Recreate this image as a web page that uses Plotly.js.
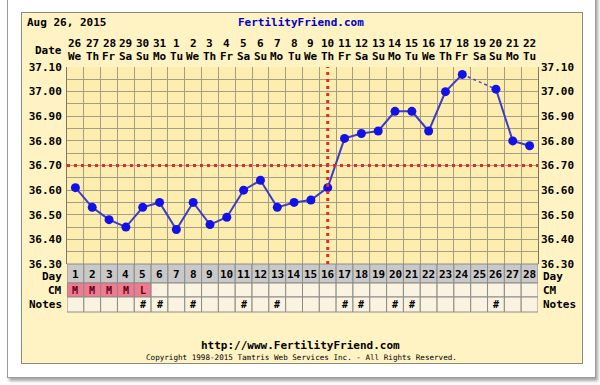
<!DOCTYPE html>
<html><head><meta charset="utf-8">
<script src="https://cdn.plot.ly/plotly-3.0.1.min.js"></script>
<style>
html,body{margin:0;padding:0;background:#fff;width:600px;height:385px;overflow:hidden;}
#frame{position:absolute;left:7px;top:-6px;width:587px;height:382px;border:1px solid #9a9a9a;background:#fff;box-shadow:2px 3px 3px rgba(0,0,0,0.35);}
#chart{position:absolute;left:21px;top:12px;width:560px;height:350px;border:1px solid #8a8a80;}
</style></head><body>
<div id="frame"></div><div id="chart"></div>
<script>
// ---- data ----
const cycleDays = [1,2,3,4,5,6,7,8,9,10,11,12,13,14,15,16,17,18,19,20,21,22,23,24,25,26,27,28];
const dateLabels = ['26','27','28','29','30','31','1','2','3','4','5','6','7','8','9','10','11','12','13','14','15','16','17','18','19','20','21','22'];
const weekdayLabels = ['We','Th','Fr','Sa','Su','Mo','Tu','We','Th','Fr','Sa','Su','Mo','Tu','We','Th','Fr','Sa','Su','Mo','Tu','We','Th','Fr','Sa','Su','Mo','Tu'];
const temps = [36.61,36.53,36.48,36.45,36.53,36.55,36.44,36.55,36.46,36.49,36.60,36.64,36.53,36.55,36.56,36.61,36.81,36.83,36.84,36.92,36.92,36.84,37.00,37.07,null,37.01,36.80,36.78];
const cmLabels = ['M','M','M','M','L','','','','','','','','','','','','','','','','','','','','','','',''];
const noteMarks = ['','','','','#','#','','#','','','#','','#','','','','#','#','','#','#','','','','','#','',''];
const coverline = 36.70;
const ovulationDay = 16;
const chartDate = 'Aug 26, 2015';
const siteTitle = 'FertilityFriend.com';
const footerUrl = 'http://www.FertilityFriend.com';
const footerCopy = 'Copyright 1998-2015 Tamtris Web Services Inc. - All Rights Reserved.';
const yMin = 36.30, yMax = 37.10;

// ---- layout helpers (page pixel -> paper) ----
const PL = 67, PW = 471, PB = 312, PH = 245;
const px = v => (v - PL) / PW;
const py = v => (PB - v) / PH;

const MONO = 'DejaVu Sans Mono';
const fnt = (size, color) => ({family: MONO, size: size, color: color || '#000', weight: 'bold'});
const gridCol = '#a59e86';
const cellLine = '#8c8c84';

// gap bridging (dashed) segments
const bridgeX = [], bridgeY = [];
for (let i = 1; i < temps.length - 1; i++) {
  if (temps[i] === null && temps[i-1] !== null && temps[i+1] !== null) {
    bridgeX.push(cycleDays[i-1], cycleDays[i+1], null);
    bridgeY.push(temps[i-1], temps[i+1], null);
  }
}

const traces = [
  {x: bridgeX, y: bridgeY, mode: 'lines', line: {color: '#4a4ab8', width: 1.5, dash: '3px,3px'}, hoverinfo: 'skip', showlegend: false},
  {x: cycleDays, y: temps, mode: 'lines+markers', connectgaps: false,
   line: {color: '#3c3cc8', width: 2}, marker: {color: '#1212e8', size: 9}, showlegend: false},
  {x: cycleDays, y: temps, yaxis: 'y2', mode: 'markers', marker: {opacity: 0}, hoverinfo: 'skip', showlegend: false}
];

const shapes = [];
const annotations = [];
const ann = (xref, x, y, text, font, xanchor) => annotations.push({xref: xref, yref: 'paper', x: x, y: y, text: text,
  showarrow: false, font: font, xanchor: xanchor || 'center', yanchor: 'middle'});
// table rows (page pixel bounds)
const rowDay = [264, 283], rowCM = [283, 297], rowNotes = [297, 312];
cycleDays.forEach((d, i) => {
  shapes.push({type: 'rect', xref: 'x', yref: 'paper', x0: d - 0.5, x1: d + 0.5, y0: py(rowDay[1]), y1: py(rowDay[0]),
    fillcolor: '#c9c9c9', line: {color: cellLine, width: 1}});
  shapes.push({type: 'rect', xref: 'x', yref: 'paper', x0: d - 0.5, x1: d + 0.5, y0: py(rowCM[1]), y1: py(rowCM[0]),
    fillcolor: cmLabels[i] ? '#f07a90' : '#fbf3e2', line: {color: cellLine, width: 1}});
  shapes.push({type: 'rect', xref: 'x', yref: 'paper', x0: d - 0.5, x1: d + 0.5, y0: py(rowNotes[1]), y1: py(rowNotes[0]),
    fillcolor: '#fbf3e2', line: {color: cellLine, width: 1}});
  ann('x', d, py(274), String(d), fnt(11));
  if (cmLabels[i]) ann('x', d, py(290), cmLabels[i], fnt(10, '#5a0010'));
  if (noteMarks[i]) ann('x', d, py(304.5), noteMarks[i], fnt(10));
  ann('x', d, py(44), dateLabels[i], fnt(11));
  ann('x', d, py(57), weekdayLabels[i], fnt(11));
});
// coverline and ovulation line
shapes.push({type: 'line', xref: 'x', yref: 'y', x0: cycleDays[0] - 0.5, x1: cycleDays[cycleDays.length-1] + 0.5, y0: coverline, y1: coverline,
  line: {color: '#e32b2b', width: 3, dash: '3px,4px'}});
shapes.push({type: 'line', xref: 'x', yref: 'y', x0: ovulationDay, x1: ovulationDay, y0: yMin, y1: yMax,
  line: {color: '#e32b2b', width: 3, dash: '3px,4px'}});

// row labels
[['Day', 276], ['CM', 290], ['Notes', 304.5]].forEach(([t, y]) => {
  ann('paper', px(64), py(y), t, fnt(11), 'right');
  ann('paper', px(541), py(y), t, fnt(11), 'left');
});
ann('paper', px(64), py(50), 'Date', fnt(11), 'right');
ann('paper', px(25), py(22), chartDate, fnt(11), 'left');
ann('paper', px(301), py(22), siteTitle, fnt(11, '#0000c8'), 'center');
ann('paper', px(300), py(345), footerUrl, fnt(11), 'center');
ann('paper', px(301), py(357), footerCopy, {family: MONO, size: 7.6, color: '#000'}, 'center');

const yTickFont = fnt(11);
const layout = {
  width: 560, height: 350,
  margin: {l: 45, r: 44, t: 54, b: 51, pad: 0},
  paper_bgcolor: '#fff3c4', plot_bgcolor: '#fdeeb0',
  font: {family: MONO, size: 11, color: '#000'},
  showlegend: false,
  xaxis: {domain: [0, 1], range: [0.5, 28.5], anchor: 'y', tick0: 0.5, dtick: 1, showgrid: true, gridcolor: gridCol, gridwidth: 1,
    showticklabels: false, ticks: '', zeroline: false, showline: false, fixedrange: true},
  yaxis: {domain: [py(264) , 1], range: [yMin, yMax], tick0: yMin, dtick: 0.1, tickformat: '.2f', showgrid: true, gridcolor: gridCol, gridwidth: 1,
    minor: {dtick: 0.05, showgrid: true, gridcolor: gridCol, gridwidth: 1}, ticks: '', ticklabelstandoff: 2,
    tickfont: yTickFont, zeroline: false, showline: true, mirror: true, linecolor: '#7c7868', linewidth: 1, fixedrange: true},
  yaxis2: {overlaying: 'y', side: 'right', anchor: 'x', range: [yMin, yMax], tick0: yMin, dtick: 0.1, tickformat: '.2f',
    showgrid: false, ticks: '', ticklabelstandoff: 2, tickfont: yTickFont, zeroline: false, fixedrange: true},
  shapes: shapes,
  annotations: annotations
};
Plotly.newPlot('chart', traces, layout, {staticPlot: true, displayModeBar: false});
</script>
</body></html>
